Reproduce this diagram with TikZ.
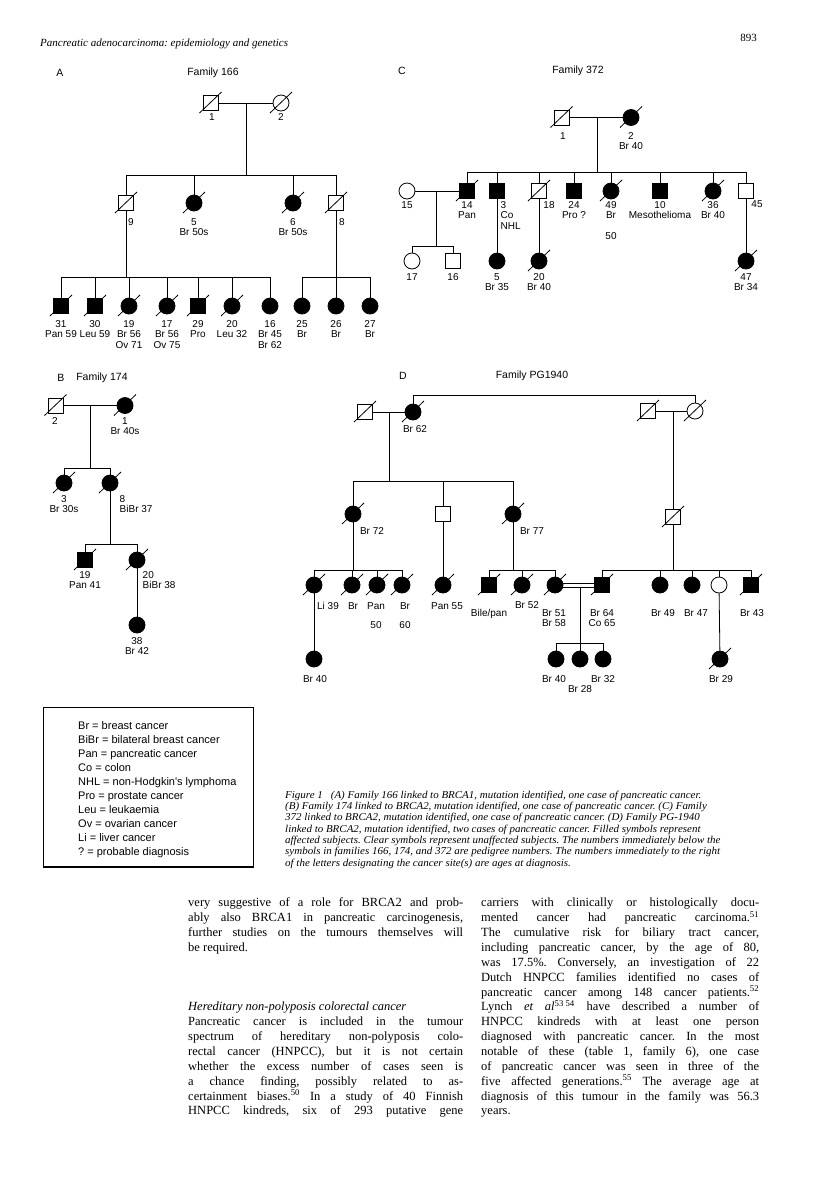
\documentclass[tikz,border=0pt]{standalone}
\usepackage{fontspec}
\setmainfont{Liberation Serif}
\newfontfamily\pedfont{Liberation Sans}
\newfontfamily\capfont[FakeStretch=1.045]{Liberation Serif}
\frenchspacing
\tikzset{
  ped/.style={line width=0.8pt},
  msq/.style={draw, line width=0.8pt, rectangle, minimum size=15pt, inner sep=0pt, fill=white},
  fci/.style={draw, line width=0.8pt, circle, minimum size=16pt, inner sep=0pt, fill=white},
  aff/.style={fill=black},
  lab/.style={font=\pedfont\fontsize{10}{10.4}\selectfont, inner sep=0pt, align=center, anchor=north},
  labl/.style={lab, align=left, anchor=north west},
  ttl/.style={font=\pedfont\fontsize{10.5}{12}\selectfont, inner sep=0pt},
  legtxt/.style={font=\pedfont\fontsize{11}{13}\selectfont, inner sep=0pt, anchor=base west},
  captxt/.style={font=\capfont\itshape\fontsize{10.5}{11.3}\selectfont, inner sep=0pt, anchor=base west},
  bodytxt/.style={font=\frenchspacing\fontsize{12.5}{14.5}\selectfont, inner sep=0pt, anchor=base west},
}
\newcommand\deceased[1]{\draw[ped] ([shift={(-11,10)}]#1.center) -- ([shift={(11,-11)}]#1.center);}
\newcommand\person[3]{%
  \if m#3\node[msq] (#1) at #2 {};\fi
  \if M#3\node[msq,aff] (#1) at #2 {};\fi
  \if f#3\node[fci] (#1) at #2 {};\fi
  \if F#3\node[fci,aff] (#1) at #2 {};\fi}
\begin{document}
\begin{tikzpicture}[x=1pt,y=-1pt]
\useasboundingbox (0,0) rectangle (816,1203);
\fill[white] (0,0) rectangle (816,1203);

% header
\node[font=\itshape\fontsize{11}{13}\selectfont, inner sep=0pt, anchor=base west] (hdr) at (40,46) {Pancreatic adenocarcinoma: epidemiology and genetics};
\node[font=\fontsize{11}{13}\selectfont, inner sep=0pt, anchor=base east] (pg) at (757,41) {893};

% ---------------- Family A ----------------
\node[ttl] (Ahd) at (60,73) {A};
\node[ttl] (Att) at (213,73) {Family 166};
\person{A1}{(210.5,103)}{m}
\person{A2}{(281,103)}{f}
\draw[ped] (A1) -- (A2);
\deceased{A1}\deceased{A2}
\node[lab] (A1t) at (212,113.4) {1};
\node[lab] (A2t) at (281,113.4) {2};
\coordinate (Am) at (246,103);
\coordinate (AsL) at (126,175);
\coordinate (AsR) at (336,175);
\draw[ped] (Am) -- (Am |- AsL);
\draw[ped] (AsL) -- (AsR);
\person{A9}{(126,203)}{m}
\person{A5}{(194,203)}{F}
\person{A6}{(293,203)}{F}
\person{A8}{(336,203)}{m}
\foreach \n in {A9,A5,A6,A8} {\draw[ped] (\n) -- (\n |- AsL); \deceased{\n}}
\node[lab] (A9t) at (131,218.4) {9};
\node[lab] (A5t) at (194,218.4) {5\\Br 50s};
\node[lab] (A6t) at (293,218.4) {6\\Br 50s};
\node[lab] (A8t) at (342,218.4) {8};
\coordinate (AbL) at (61,277); \coordinate (AbR) at (270,277);
\coordinate (AcL) at (302,277); \coordinate (AcR) at (370,277);
\draw[ped] (A9) -- (A9 |- AbL);
\draw[ped] (AbL) -- (AbR);
\draw[ped] (A8) -- (A8 |- AcL);
\draw[ped] (AcL) -- (AcR);
\foreach \n/\x/\k/\d/\t in {A31/61/M/1/{31\\Pan 59}, A30/95/M/1/{30\\Leu 59}, A19/129/F/1/{19\\Br 56\\Ov 71}, A17/167/F/1/{17\\Br 56\\Ov 75}, A29/198/M/1/{29\\Pro}, A20/232/F/1/{20\\Leu 32}, A16/270/F/0/{16\\Br 45\\Br 62}, A25/302/F/0/{25\\Br}, A26/336/F/0/{26\\Br}, A27/370/F/0/{27\\Br}}{
  \person{\n}{(\x,306)}{\k}
  \draw[ped] (\n) -- (\n |- AbL);
  \ifnum\d=1 \deceased{\n}\fi
  \node[lab] (\n t) at (\x,320.4) {\t};
}

% ---------------- Family C ----------------
\node[ttl] (Chd) at (402,71) {C};
\node[ttl] (Ctt) at (578,71) {Family 372};
\person{C1}{(561.5,117.5)}{m}
\person{C2}{(631,117.5)}{F}
\draw[ped] (C1) -- (C2);
\deceased{C1}\deceased{C2}
\node[lab] (C1t) at (563,132.4) {1};
\node[lab] (C2t) at (631,132.4) {2\\Br 40};
\coordinate (Cm) at (597,117.5);
\coordinate (CsL) at (467,172);
\coordinate (CsR) at (746,172);
\draw[ped] (Cm) -- (Cm |- CsL);
\draw[ped] (CsL) -- (CsR);
\foreach \n/\x/\k/\d in {C14/467/M/1, C3/497/M/0, C18/539/m/1, C24/574/M/0, C49/611/F/1, C10/660/M/0, C36/713/F/1, C45/746/m/0}{
  \person{\n}{(\x,191)}{\k}
  \draw[ped] (\n) -- (\n |- CsL);
  \ifnum\d=1 \deceased{\n}\fi
}
\node[lab] (C14t) at (467,201.4) {14\\Pan};
\node[labl] (C3t) at (500.5,201.4) {3\\Co\\NHL};
\node[lab] (C18t) at (549,201.4) {18};
\node[lab] (C24t) at (574,201.4) {24\\Pro ?};
\node[lab] (C49t) at (611,201.4) {49\\Br};
\node[lab] (C49a) at (611,232.4) {50};
\node[lab] (C10t) at (660,201.4) {10\\Mesothelioma};
\node[lab] (C36t) at (713,201.4) {36\\Br 40};
\node[lab] (C45t) at (757,200.4) {45};
\person{C15}{(407,191)}{f}
\draw[ped] (C15) -- (C14);
\node[lab] (C15t) at (407,201.4) {15};
\coordinate (Cm2) at (436,191);
\coordinate (CtL) at (412,246);
\coordinate (CtR) at (453,246);
\draw[ped] (Cm2) -- (Cm2 |- CtL);
\draw[ped] (CtL) -- (CtR);
\person{C17}{(412,261)}{f}
\person{C16}{(453,261)}{m}
\draw[ped] (C17) -- (C17 |- CtL);
\draw[ped] (C16) -- (C16 |- CtL);
\node[lab] (C17t) at (412,273.4) {17};
\node[lab] (C16t) at (453,273.4) {16};
\person{C5}{(497,261)}{F}
\draw[ped] (C3) -- (C5);
\node[lab] (C5t) at (497,273.4) {5\\Br 35};
\person{C20}{(539,261)}{F}
\draw[ped] (C18) -- (C20);
\deceased{C20}
\node[lab] (C20t) at (539,273.4) {20\\Br 40};
\person{C47}{(746,261)}{F}
\draw[ped] (C45) -- (C47);
\deceased{C47}
\node[lab] (C47t) at (746,273.4) {47\\Br 34};

% ---------------- Family B ----------------
\node[ttl] (Bhd) at (61,378) {B};
\node[ttl] (Btt) at (102,378) {Family 174};
\person{B2}{(55.5,405.5)}{m}
\person{B1}{(125,405.5)}{F}
\draw[ped] (B2) -- (B1);
\deceased{B2}\deceased{B1}
\node[lab] (B2t) at (55,417.4) {2};
\node[lab] (B1t) at (125,417.4) {1\\Br 40s};
\coordinate (Bm) at (90,405.5);
\coordinate (BsL) at (64,468);
\coordinate (BsR) at (110,468);
\draw[ped] (Bm) -- (Bm |- BsL);
\draw[ped] (BsL) -- (BsR);
\person{B3}{(64,483)}{F}
\person{B8}{(110,483)}{F}
\draw[ped] (B3) -- (B3 |- BsL);
\draw[ped] (B8) -- (B8 |- BsL);
\deceased{B3}\deceased{B8}
\node[lab] (B3t) at (64,495.4) {3\\Br 30s};
\node[labl] (B8t) at (119.5,495.4) {8\\BiBr 37};
\coordinate (BtL) at (85,544);
\coordinate (BtR) at (137,544);
\draw[ped] (B8) -- (B8 |- BtL);
\draw[ped] (BtL) -- (BtR);
\person{B19}{(85,560)}{M}
\person{B20}{(137,560)}{F}
\draw[ped] (B19) -- (B19 |- BtL);
\draw[ped] (B20) -- (B20 |- BtL);
\deceased{B19}\deceased{B20}
\node[lab] (B19t) at (85,571.4) {19\\Pan 41};
\node[labl] (B20t) at (142.5,571.4) {20\\BiBr 38};
\person{B38}{(137,625)}{F}
\draw[ped] (B20) -- (B38);
\node[lab] (B38t) at (137,637.4) {38\\Br 42};

% ---------------- Family D ----------------
\node[ttl] (Dhd) at (403,376) {D};
\node[ttl] (Dtt) at (532,376) {Family PG1940};
\person{Dp1}{(365,412)}{m}
\person{Dp2}{(413,412)}{F}
\draw[ped] (Dp1) -- (Dp2);
\deceased{Dp1}\deceased{Dp2}
\node[lab] (Dp2t) at (415,425.4) {Br 62};
\person{Dq1}{(648,411)}{m}
\person{Dq2}{(695,411)}{f}
\draw[ped] (Dq1) -- (Dq2);
\deceased{Dq1}\deceased{Dq2}
\coordinate (DtopL) at (413,395);
\coordinate (DtopR) at (695,395);
\draw[ped] (Dp2) -- (DtopL) -- (DtopR) -- (Dq2);
\coordinate (Dm) at (389,412);
\coordinate (DsL) at (353,481);
\coordinate (DsR) at (513,481);
\draw[ped] (Dm) -- (Dm |- DsL);
\draw[ped] (DsL) -- (DsR);
\person{D72}{(353,514)}{F}
\person{Dsq}{(443,514)}{m}
\person{D77}{(513,514)}{F}
\foreach \n in {D72,Dsq,D77} {\draw[ped] (\n) -- (\n |- DsL);}
\deceased{D72}\deceased{D77}
\node[lab] (D72t) at (372,527.4) {Br 72};
\node[lab] (D77t) at (532,527.4) {Br 77};
% children of Br 72
\coordinate (DaL) at (314,570);
\coordinate (DaR) at (402,570);
\draw[ped] (D72) -- (D72 |- DaL);
\draw[ped] (DaL) -- (DaR);
\foreach \n/\x in {Dli/314, Dk2/352, Dk3/377, Dk4/402}{
  \person{\n}{(\x,585)}{F}
  \draw[ped] (\n) -- (\n |- DaL);
  \deceased{\n}
}
\person{D55}{(443,585)}{F}
\draw[ped] (Dsq) -- (D55);
\deceased{D55}
% children of Br 77
\coordinate (DbL) at (489,570);
\coordinate (DbR) at (555,570);
\draw[ped] (D77) -- (D77 |- DbL);
\draw[ped] (DbL) -- (DbR);
\foreach \n/\x/\k in {Dbp/489/M, D52/522/F, D51/555/F}{
  \person{\n}{(\x,585)}{\k}
  \draw[ped] (\n) -- (\n |- DbL);
  \deceased{\n}
}
% right branch
\coordinate (Dm2) at (673,411);
\person{Dq3}{(673,517)}{m}
\draw[ped] (Dm2) -- (Dq3);
\deceased{Dq3}
\coordinate (DrL) at (602,570);
\coordinate (DrR) at (751,570);
\draw[ped] (Dq3) -- (Dq3 |- DrL);
\draw[ped] (DrL) -- (DrR);
\foreach \n/\x/\k/\d in {D64/602/M/1, D49/660/F/0, D47/692/F/0, Dop/719/f/0, D43/751/M/1}{
  \person{\n}{(\x,585)}{\k}
  \draw[ped] (\n) -- (\n |- DrL);
  \ifnum\d=1 \deceased{\n}\fi
}
% consanguineous marriage
\draw[ped] ([shift={(0,-2)}]D51.east) -- ([shift={(0,-2)}]D64.west);
\draw[ped] ([shift={(0,2)}]D51.east) -- ([shift={(0,2)}]D64.west);
\coordinate (Dcm) at (580,587);
\coordinate (DcL) at (556,643);
\coordinate (DcR) at (603,643);
\draw[ped] (Dcm) -- (Dcm |- DcL);
\draw[ped] (DcL) -- (DcR);
\foreach \n/\x in {Dc1/556, Dc2/580, Dc3/603}{
  \person{\n}{(\x,659)}{F}
  \draw[ped] (\n) -- (\n |- DcL);
}
\person{Dl40}{(314,659)}{F}
\draw[ped] (Dli) -- (Dl40);
\person{D29}{(720,659)}{F}
\draw[ped] (Dop) -- (D29);
\deceased{D29}
% D labels
\node[lab] (Dlit) at (328,602) {Li 39};
\node[lab] (Dk2t) at (353,602) {Br};
\node[lab] (Dk3t) at (376,602) {Pan};
\node[lab] (Dk4t) at (405,602) {Br};
\node[lab] (Dk3a) at (376,621) {50};
\node[lab] (Dk4a) at (405,621) {60};
\node[lab] (D55t) at (447,602) {Pan 55};
\node[lab] (Dbpt) at (489,609) {Bile/pan};
\node[lab] (D52t) at (527,601) {Br 52};
\node[lab] (D51t) at (554,609) {Br 51\\Br 58};
\node[lab] (D64t) at (602,609) {Br 64\\Co 65};
\node[lab] (D49t) at (663,609) {Br 49};
\node[lab] (D47t) at (696,609) {Br 47};
\node[lab] (D43t) at (752,609) {Br 43};
\node[lab] (Dl40t) at (315,675.4) {Br 40};
\node[lab] (Dc1t) at (554,675.4) {Br 40};
\node[lab] (Dc2t) at (580,685.4) {Br 28};
\node[lab] (Dc3t) at (603,675.4) {Br 32};
\node[lab] (D29t) at (721,675.4) {Br 29};

% ---------------- legend ----------------
\node[draw, line width=0.9pt, minimum width=210pt, minimum height=159pt, inner sep=0pt, anchor=north west] (leg) at (43,707) {};
\draw[line width=1.4pt] (leg.south west) -- (leg.south east);
\foreach \t [count=\i from 0] in {Br = breast cancer, BiBr = bilateral breast cancer, Pan = pancreatic cancer, Co = colon, NHL = non-Hodgkin's lymphoma, Pro = prostate cancer, Leu = leukaemia, Ov = ovarian cancer, Li = liver cancer, ? = probable diagnosis}{
  \node[legtxt] (lg\i) at (78,729.9+13.9*\i) {\t};
}

% ---------------- caption ----------------
\foreach \t [count=\i from 0] in {{Figure 1\hspace{8pt}(A) Family 166 linked to BRCA1, mutation identified, one case of pancreatic cancer.},
 {(B) Family 174 linked to BRCA2, mutation identified, one case of pancreatic cancer. (C) Family},
 {372 linked to BRCA2, mutation identified, one case of pancreatic cancer. (D) Family PG-1940},
 {linked to BRCA2, mutation identified, two cases of pancreatic cancer. Filled symbols represent},
 {affected subjects. Clear symbols represent unaffected subjects. The numbers immediately below the},
 {symbols in families 166, 174, and 372 are pedigree numbers. The numbers immediately to the right},
 {of the letters designating the cancer site(s) are ages at diagnosis.}}{
  \node[captxt] (cap\i) at (285,798.2+11.3*\i) {\t};
}

% ---------------- body text ----------------
\foreach \i/\t in {0/{very suggestive of a role for BRCA2 and prob-},
 1/{ably also BRCA1 in pancreatic carcinogenesis,},
 2/{further studies on the tumours themselves will},
 3/{be required.\hfill},
 7/{\textit{Hereditary non-polyposis colorectal cancer}\hfill},
 8/{Pancreatic cancer is included in the tumour},
 9/{spectrum of hereditary non-polyposis colo-},
 10/{rectal cancer (HNPCC), but it is not certain},
 11/{whether the excess number of cases seen is},
 12/{a chance finding, possibly related to as-},
 13/{certainment biases.\textsuperscript{50} In a study of 40 Finnish},
 14/{HNPCC kindreds, six of 293 putative gene}}{
  \node[bodytxt] (bl\i) at (188,906.8+14.87*\i) {\makebox[275pt][s]{\t}};
}
\foreach \t [count=\i from 0] in {{carriers with clinically or histologically docu-},
 {mented cancer had pancreatic carcinoma.\textsuperscript{51}},
 {The cumulative risk for biliary tract cancer,},
 {including pancreatic cancer, by the age of 80,},
 {was 17.5\%. Conversely, an investigation of 22},
 {Dutch HNPCC families identified no cases of},
 {pancreatic cancer among 148 cancer patients.\textsuperscript{52}},
 {Lynch \textit{et al}\textsuperscript{53 54} have described a number of},
 {HNPCC kindreds with at least one person},
 {diagnosed with pancreatic cancer. In the most},
 {notable of these (table 1, family 6), one case},
 {of pancreatic cancer was seen in three of the},
 {five affected generations.\textsuperscript{55} The average age at},
 {diagnosis of this tumour in the family was 56.3},
 {years.\hfill}}{
  \node[bodytxt] (br\i) at (481,906.8+14.87*\i) {\makebox[278pt][s]{\t}};
}
\end{tikzpicture}
\end{document}
